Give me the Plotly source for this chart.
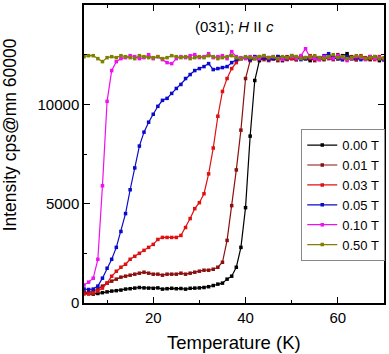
import plotly.graph_objects as go

temperature = list(range(5, 71))

i_000T = [500, 480, 450, 480, 520, 560, 600, 620, 650, 700,
          720, 750, 780, 760, 750, 740, 760, 700, 720, 740,
          720, 730, 700, 740, 750, 760, 780, 820, 880, 950,
          1000, 1200, 1350, 1800, 2800, 4800, 8400, 11200, 12200,
          12350, 12250, 12300, 12400, 12200, 12300, 12350, 12250, 12400, 12300,
          12200, 12350, 12300, 12250, 12400, 12350, 12300, 12450, 12550, 12300,
          12250, 12350, 12300, 12250, 12400, 12200, 12300]

i_001T = [550, 530, 600, 700, 850, 1000, 1100, 1200, 1300, 1350,
          1400, 1450, 1500, 1550, 1500, 1450, 1450, 1400, 1450, 1450,
          1450, 1500, 1450, 1500, 1550, 1600, 1650, 1650, 1700, 1800,
          2050, 3150, 4900, 6700, 8700, 11300, 12200,
          12300, 12400, 12250, 12350, 12300, 12200, 12350, 12400, 12300, 12250,
          12400, 12350, 12300, 12200, 12350, 12400, 12300, 12250, 12500, 12350,
          12300, 12400, 12250, 12350, 12300, 12400, 12350, 12300, 12250]

i_003T = [450, 450, 500, 600, 750, 1000, 1350, 1600, 1800, 1950,
          2200, 2350, 2500, 2650, 2800, 2950, 3200, 3300, 3300, 3300,
          3300, 3400, 3800, 4250, 4750, 5050, 5500, 6500, 7800, 9400,
          10650, 11300, 11800, 12100, 12300,
          12350, 12250, 12400, 12300, 12350, 12200, 12300, 12400, 12350, 12250,
          12300, 12400, 12350, 12300, 12450, 12350, 12250, 12300, 12400, 12350,
          12300, 12250, 12400, 12350, 12300, 12450, 12350, 12300, 12250, 12400, 12300]

i_005T = [700, 680, 700, 850, 1250, 1750, 2200, 2800, 3600, 4500,
          5700, 6800, 7900, 8600, 9100, 9500, 9900, 10200, 10300, 10550,
          10800, 11000, 11300, 11500, 11700, 11800, 11900, 12050, 11750, 11800,
          11850, 11900, 12100, 12250,
          12300, 12350, 12250, 12400, 12300, 12350, 12250, 12300, 12400, 12350,
          12300, 12450, 12350, 12250, 12300, 12400, 12350, 12300, 12450, 12550,
          12350, 12300, 12250, 12400, 12300, 12350, 12250, 12300, 12400, 12350, 12300, 12250]

i_010T = [900, 1050, 1250, 2200, 5900, 10150, 11700, 12150,
          12300, 12350, 12450, 12400, 12300, 12350, 12500, 12300, 12400, 12250,
          12100, 12050, 12300, 12400, 12350, 12450, 12500, 12350, 12400, 12550,
          12350, 12400, 12450, 12300, 12650, 12400, 12350, 12300, 12400, 12350,
          12300, 12450, 12350, 12400, 12300, 12250, 12350, 12400, 12300, 12450,
          12800, 12350, 12300, 12250, 12400, 12350, 12300, 12450, 12350, 12200,
          12300, 12400, 12350, 12250, 12400, 12300, 12350, 12300]

i_050T = [12400, 12450, 12450, 12300, 12150, 12350, 12400, 12350, 12450, 12400,
          12350, 12300, 12450, 12400, 12350, 12350, 12400, 12300, 12350, 12450,
          12400, 12350, 12400, 12300, 12350, 12400, 12350, 12450, 12400, 12300,
          12350, 12400, 12450, 12350, 12300, 12400, 12350, 12300, 12400, 12450,
          12350, 12400, 12300, 12400, 12350, 12450, 12400, 12300, 12350, 12400,
          12450, 12350, 12300, 12400, 12500, 12350, 12400, 12300, 12350, 12450,
          12400, 12300, 12350, 12400, 12300, 12350]

series_names = ["0.00 T", "0.01 T", "0.03 T", "0.05 T", "0.10 T", "0.50 T"]
series_values = [i_000T, i_001T, i_003T, i_005T, i_010T, i_050T]
series_colors = ["#000000", "#8b0f0f", "#e01010", "#0a0acc", "#ee10ee", "#808000"]

fig = go.Figure()
for name, vals, col in zip(series_names, series_values, series_colors):
    fig.add_trace(go.Scatter(
        x=temperature, y=vals, name=name, mode="lines+markers",
        line=dict(color=col, width=1.2),
        marker=dict(symbol="square", size=3.5, color=col),
    ))

axis_common = dict(
    showgrid=False, zeroline=False, showline=True, linecolor="black",
    linewidth=1.5, mirror="ticks", ticks="inside", ticklen=6, tickwidth=1.2,
    tickcolor="black", tickfont=dict(size=15, color="black"),
)

fig.update_xaxes(range=[5, 70], tick0=0, dtick=20,
                 minor=dict(ticks="inside", ticklen=3, dtick=10, tick0=0,
                            tickcolor="black", tickwidth=1),
                 **axis_common)
fig.update_yaxes(range=[0, 15000], tick0=0, dtick=5000, tickformat="d",
                 minor=dict(ticks="inside", ticklen=3, dtick=2500, tick0=0,
                            tickcolor="black", tickwidth=1),
                 **axis_common)

fig.add_annotation(text="(031); <i>H</i> II <i>c</i>", xref="paper", yref="paper",
                   x=(235 - 84) / 301, y=(303 - 25) / 300, showarrow=False,
                   font=dict(size=15, color="black"), xanchor="center", yanchor="middle")
fig.add_annotation(text="Intensity cps@mn 60000", xref="paper", yref="paper",
                   x=(10 - 84) / 301, y=(303 - 134) / 300, textangle=-90,
                   showarrow=False, font=dict(size=17.5, color="black"),
                   xanchor="center", yanchor="middle")
fig.add_annotation(text="Temperature (K)", xref="paper", yref="paper",
                   x=(235 - 84) / 301, y=(303 - 343) / 300, showarrow=False,
                   font=dict(size=18.5, color="black"),
                   xanchor="center", yanchor="middle")

fig.update_layout(
    width=389, height=354,
    margin=dict(l=84, r=4, t=3, b=51),
    paper_bgcolor="white", plot_bgcolor="white",
    font=dict(family="Liberation Sans, Arial, sans-serif", color="black"),
    showlegend=True,
    legend=dict(x=(302 - 84) / 301, y=(303 - 128) / 300, xanchor="left", yanchor="top",
                bordercolor="#888888", borderwidth=1, bgcolor="white",
                font=dict(size=13), itemwidth=30, tracegroupgap=0),
)

fig.write_html("out.html")
